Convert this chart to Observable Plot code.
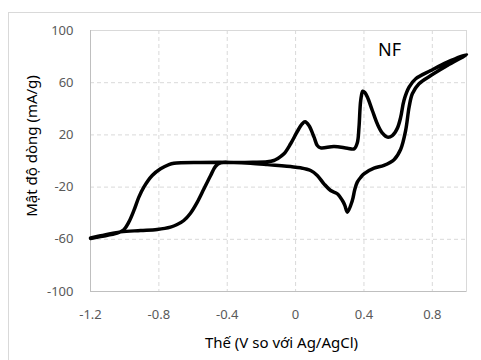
<!DOCTYPE html>
<html>
<head>
<meta charset="utf-8">
<script src="https://cdn.jsdelivr.net/npm/d3@7"></script>
<script src="https://cdn.jsdelivr.net/npm/@observablehq/plot@0.6"></script>
<style>
  html, body { margin: 0; padding: 0; background: #fff; }
  #wrap { position: relative; width: 481px; height: 360px; overflow: hidden; }
  #border { position: absolute; left: 8px; top: 12px; width: 500px; height: 400px; border: 1px solid #d9d9d9; box-sizing: border-box; }
  #chart { position: absolute; left: 0; top: 0; }
</style>
</head>
<body>
<div id="wrap"><div id="border"></div><div id="chart"></div></div>
<script>
// Potential (V vs Ag/AgCl) and current density (mA/g), one closed CV loop
const potential = [
  -1.2, -1.141, -1.024, -0.907, -0.810, -0.732, -0.693, -0.654, -0.615, -0.575,
  -0.536, -0.497, -0.468, -0.439, -0.361, -0.25, -0.166, -0.127, -0.107, -0.068,
  -0.029, 0.010, 0.039, 0.055, 0.078, 0.108, 0.127, 0.147, 0.225, 0.303,
  0.342, 0.361, 0.371, 0.381, 0.393, 0.405, 0.420, 0.449, 0.478, 0.508,
  0.537, 0.566, 0.595, 0.615, 0.634, 0.664, 0.703, 0.791, 0.888, 1.0,
  0.888, 0.791, 0.722, 0.683, 0.664, 0.644, 0.615, 0.576, 0.517, 0.459,
  0.400, 0.381, 0.361, 0.346, 0.332, 0.303, 0.288, 0.274, 0.244, 0.205,
  0.166, 0.127, 0.088, 0.029, -0.029, -0.166, -0.263, -0.361, -0.556, -0.712,
  -0.741, -0.790, -0.839, -0.888, -0.917, -0.946, -0.976, -1.005, -1.044, -1.141,
  -1.2
];
const current = [
  -58.9, -57.3, -54.3, -53.3, -52.5, -50.7, -48.7, -45.6, -40.0, -31.5,
  -21.3, -11.1, -4.0, -1.4, -1.2, -1.0, -0.6, 0.4, 1.7, 5.5,
  13.2, 22.6, 28.5, 30.0, 27.2, 18.3, 11.9, 10.1, 11.1, 9.8,
  9.3, 14.0, 25.9, 46.4, 53.5, 52.5, 49.0, 38.7, 28.5, 21.3,
  18.3, 19.5, 25.0, 33.6, 46.4, 56.6, 63.0, 69.3, 75.7, 81.6,
  73.2, 65.5, 59.2, 51.5, 41.2, 23.4, 9.0, 1.0, -3.4, -5.5,
  -9.8, -12.5, -16.2, -22.0, -30.3, -39.2, -34.0, -30.3, -25.1, -22.6,
  -17.5, -11.1, -7.3, -5.2, -4.3, -2.7, -1.7, -1.1, -1.1, -1.7,
  -2.7, -6.0, -11.1, -20.0, -27.7, -37.9, -46.9, -52.7, -55.3, -57.9,
  -59.4
];
const xTicks = [-1.2, -0.8, -0.4, 0, 0.4, 0.8];
const yTicks = [-100, -60, -20, 20, 60, 100];
const xDomain = [-1.2, 1.0];
const yDomain = [-100, 100];
const xTitle = "Thế (V so với Ag/AgCl)";
const yTitle = "Mật độ dòng (mA/g)";
const seriesLabel = "NF";

const data = potential.map((v, i) => ({x: v, y: current[i]}));
const font = "'Noto Sans', 'Open Sans', sans-serif";

const chart = Plot.plot({
  width: 481,
  height: 360,
  marginLeft: 90,
  marginRight: 15,
  marginTop: 30,
  marginBottom: 69,
  style: {fontFamily: font, background: "transparent"},
  x: {domain: xDomain},
  y: {domain: yDomain},
  marks: [
    Plot.gridX(xTicks.slice(1), {stroke: "#d9d9d9", strokeOpacity: 1, strokeDasharray: "4,3"}),
    Plot.gridY(yTicks.slice(1), {stroke: "#d9d9d9", strokeOpacity: 1, strokeDasharray: "4,3"}),
    Plot.frame({stroke: "#d9d9d9"}),
    Plot.ruleX([xDomain[0]], {stroke: "#bfbfbf"}),
    Plot.ruleY([yDomain[0]], {stroke: "#bfbfbf"}),
    Plot.axisX(xTicks, {tickSize: 0, tickPadding: 18, fontSize: 13, fill: "#595959", tickFormat: d => String(d), label: null}),
    Plot.axisY(yTicks, {tickSize: 0, tickPadding: 17, fontSize: 13, fill: "#595959", tickFormat: d => String(d), label: null}),
    Plot.line(data, {x: "x", y: "y", stroke: "#000", strokeWidth: 3.5, curve: "catmull-rom"}),
    Plot.text([xTitle], {text: d => d, frameAnchor: "bottom", dx: 3, dy: 52, fontSize: 15, fill: "#000", textAnchor: "middle", lineAnchor: "middle"}),
    Plot.text([yTitle], {text: d => d, frameAnchor: "left", dx: -58, dy: -15, rotate: -90, fontSize: 15, fill: "#000", textAnchor: "middle", lineAnchor: "middle"}),
    Plot.text([seriesLabel], {text: d => d, frameAnchor: "top-right", dx: -77, dy: 20, fontSize: 18, fill: "#000", textAnchor: "middle", lineAnchor: "middle"})
  ]
});
document.getElementById("chart").appendChild(chart);
</script>
</body>
</html>
